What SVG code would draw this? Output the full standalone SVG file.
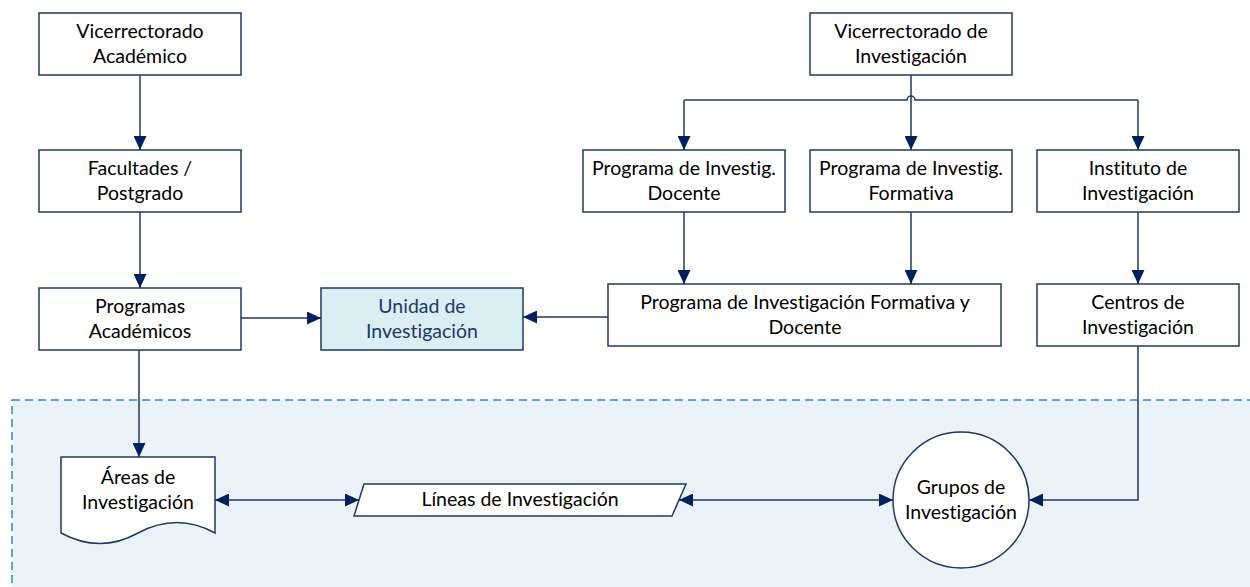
<svg xmlns="http://www.w3.org/2000/svg" width="1250" height="587" viewBox="0 0 1250 587">
<style>
.box{fill:#ffffff;stroke:#1F3864;stroke-width:1.5}
.hl{fill:#DAEEF3;stroke:#1F3864;stroke-width:1.5}
.t{font-family:Lato,"Liberation Sans",sans-serif;font-size:19.5px;fill:#000;text-anchor:middle;font-variant-ligatures:none}
.tb{fill:#1F3864}
.c{fill:none;stroke:#1F3864;stroke-width:1.5}
</style>
<defs>
<marker id="ah" viewBox="0 0 14 13" refX="14" refY="6.5" markerWidth="14" markerHeight="13" markerUnits="userSpaceOnUse" orient="auto-start-reverse">
<path d="M0,0 L14,6.5 L0,13 Z" fill="#002060"/>
</marker>
</defs>
<rect id="zone" x="12" y="400" width="1250" height="200" fill="#EAF3F7" stroke="#2E86DE" stroke-width="1.5" stroke-dasharray="8,5"/>
<g id="n1"><rect class="box" x="39" y="13" width="202" height="62"/><text class="t" x="140" y="38">Vicerrectorado</text><text class="t" x="140" y="63">Académico</text></g>
<g id="n2"><rect class="box" x="39" y="150" width="202" height="62"/><text class="t" x="140" y="175">Facultades /</text><text class="t" x="140" y="200">Postgrado</text></g>
<g id="n3"><rect class="box" x="39" y="288" width="202" height="62"/><text class="t" x="140" y="313">Programas</text><text class="t" x="140" y="338">Académicos</text></g>
<g id="n4"><rect class="hl" x="321" y="288" width="202" height="62"/><text class="t tb" x="422" y="313">Unidad de</text><text class="t tb" x="422" y="338">Investigación</text></g>
<g id="n5"><rect class="box" x="810" y="13" width="202" height="62"/><text class="t" x="911" y="38">Vicerrectorado de</text><text class="t" x="911" y="63">Investigación</text></g>
<g id="n6"><rect class="box" x="583" y="150" width="202" height="62"/><text class="t" x="684" y="175">Programa de Investig.</text><text class="t" x="684" y="200">Docente</text></g>
<g id="n7"><rect class="box" x="810" y="150" width="202" height="62"/><text class="t" x="911" y="175">Programa de Investig.</text><text class="t" x="911" y="200">Formativa</text></g>
<g id="n8"><rect class="box" x="1037" y="150" width="202" height="62"/><text class="t" x="1138" y="175">Instituto  de</text><text class="t" x="1138" y="200">Investigación</text></g>
<g id="n9"><rect class="box" x="608" y="284" width="393" height="62"/><text class="t" x="805" y="309">Programa de Investigación Formativa y</text><text class="t" x="805" y="334">Docente</text></g>
<g id="n10"><rect class="box" x="1037" y="284" width="202" height="62"/><text class="t" x="1138" y="309">Centros de</text><text class="t" x="1138" y="334">Investigación</text></g>
<g id="n11"><path class="box" d="M61,457 H215 V533 Q177,512 138,533 Q100,554 61,533 Z"/><text class="t" x="138" y="484">Áreas de</text><text class="t" x="138" y="509">Investigación</text></g>
<g id="n12"><path class="box" d="M364,484 H686 L672,516 H354 Z"/><text class="t" x="520" y="506">Líneas de Investigación</text></g>
<g id="n13"><ellipse class="box" cx="961" cy="500" rx="68" ry="68"/><text class="t" x="961" y="494">Grupos de</text><text class="t" x="961" y="519">Investigación</text></g>
<g id="connectors">
<path class="c" d="M140,75 V150" marker-end="url(#ah)"/>
<path class="c" d="M140,212 V288" marker-end="url(#ah)"/>
<path class="c" d="M241,318 H321" marker-end="url(#ah)"/>
<path class="c" d="M608,317 H523" marker-end="url(#ah)"/>
<path class="c" d="M911,75 V150" marker-end="url(#ah)"/>
<path class="c" d="M684,100 H907 A4,4 0 0 1 915,100 H1138"/>
<path class="c" d="M684,100 V150" marker-end="url(#ah)"/>
<path class="c" d="M1138,100 V150" marker-end="url(#ah)"/>
<path class="c" d="M684,212 V284" marker-end="url(#ah)"/>
<path class="c" d="M911,212 V284" marker-end="url(#ah)"/>
<path class="c" d="M1138,212 V284" marker-end="url(#ah)"/>
<path class="c" d="M139,350 V457" marker-end="url(#ah)"/>
<path class="c" d="M1138,346 V500 H1029" marker-end="url(#ah)"/>
<path class="c" d="M215,500 H359" marker-start="url(#ah)" marker-end="url(#ah)"/>
<path class="c" d="M679,500 H893" marker-start="url(#ah)" marker-end="url(#ah)"/>
</g>
</svg>
